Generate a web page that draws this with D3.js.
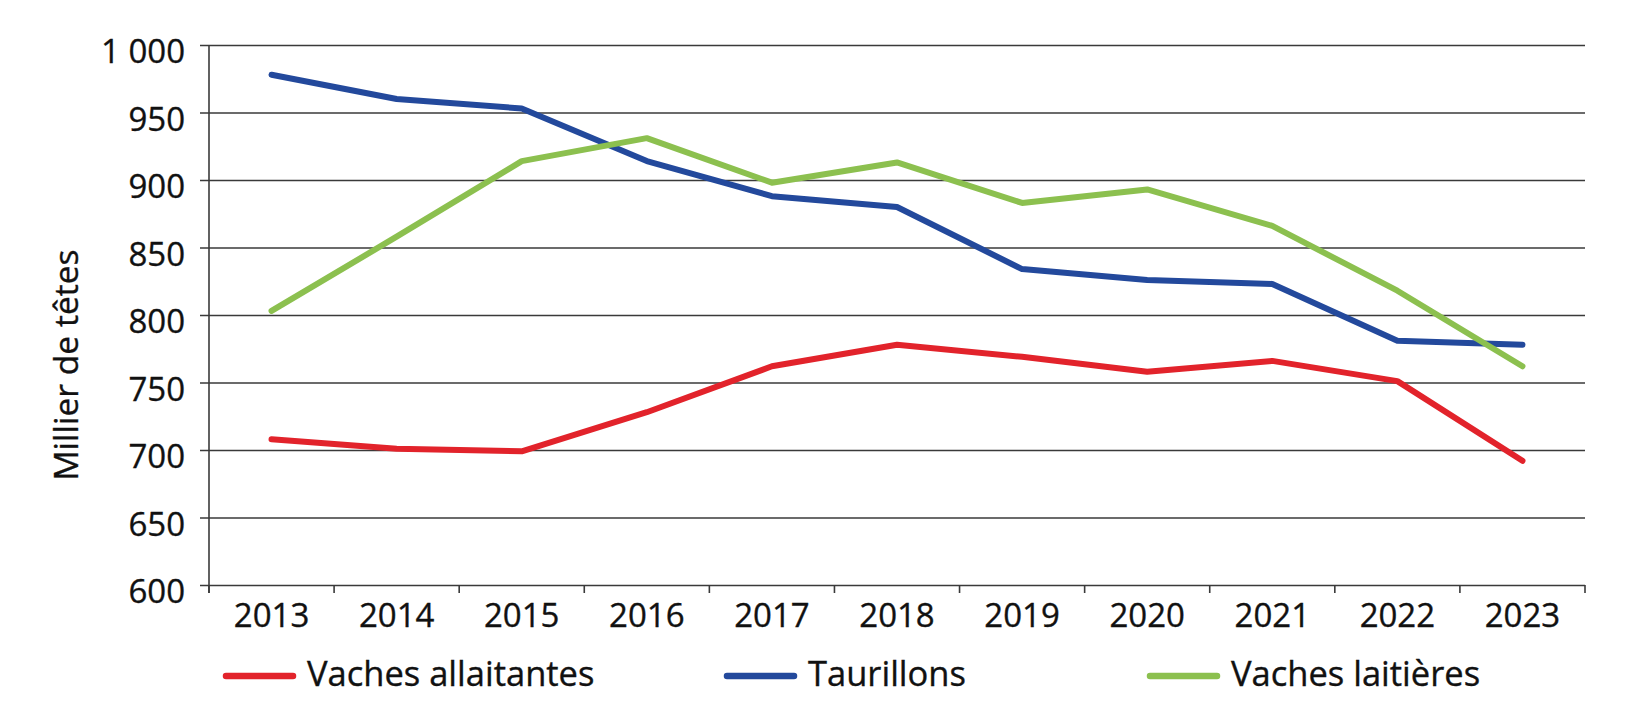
<!DOCTYPE html>
<html>
<head>
<meta charset="utf-8">
<script src="https://cdn.jsdelivr.net/npm/d3@7"></script>
<style>
  html, body { margin: 0; padding: 0; background: #fff; }
  svg { display: block; }
</style>
</head>
<body>
<svg id="chart" width="1652" height="704"></svg>
<script>
// data (milliers de têtes)
const years = ["2013", "2014", "2015", "2016", "2017", "2018", "2019", "2020", "2021", "2022", "2023"];
const vachesAllaitantes = [708, 701, 699, 728, 762, 778, 769, 758, 766, 751, 692];
const taurillons = [978, 960, 953, 914, 888, 880, 834, 826, 823, 781, 778];
const vachesLaitieres = [803, 858, 914, 931, 898, 913, 883, 893, 866, 818, 762];
const yTicks = [600, 650, 700, 750, 800, 850, 900, 950, 1000];
const seriesNames = ["Vaches allaitantes", "Taurillons", "Vaches laitières"];
const seriesColors = ["#e2232b", "#23499c", "#8cc04f"];

const series = [vachesAllaitantes, taurillons, vachesLaitieres].map((values, i) => ({
    name: seriesNames[i],
    color: seriesColors[i],
    values: values.map((v, j) => ({ year: years[j], value: v }))
}));

const font_family = "'Open Sans', sans-serif";
const tick_size = 33;
const legend_size = 34.5;
const title_size = 33.6;

// slightly heavier text, closer to the reference typeface
function styleText(sel, size) {
    sel.attr("fill", "#111")
        .attr("stroke", "#111")
        .attr("stroke-width", 0.35)
        .style("font-family", font_family)
        .style("font-size", size + "px");
}

const svg = d3.select("#chart");
svg.append("rect").attr("width", 1652).attr("height", 704).attr("fill", "#fff");

// Scales
const x = d3.scaleBand().domain(years).range([209, 1585]).paddingInner(0).paddingOuter(0);
const y = d3.scaleLinear().domain([600, 1000]).range([585, 45]);

const frFormat = d3.formatLocale({ decimal: ",", thousands: " ", grouping: [3], currency: ["", " €"] }).format(",d");

// Gridlines + y labels
const yAxis = svg.append("g")
    .attr("transform", "translate(200,0)")
    .call(d3.axisLeft(y)
        .tickValues(yTicks)
        .tickSizeInner(-(1585 - 200))
        .tickSizeOuter(0)
        .tickPadding(15)
        .tickFormat(frFormat));
yAxis.select(".domain").remove();
yAxis.selectAll(".tick line").attr("stroke", "#3a3a3a").attr("stroke-width", 1.6);
yAxis.selectAll(".tick text")
    .attr("dy", 17.5)
    .call(styleText, tick_size);

// y axis line
svg.append("line")
    .attr("x1", x.range()[0]).attr("x2", x.range()[0])
    .attr("y1", y(1000)).attr("y2", y(600) + 8)
    .attr("stroke", "#3a3a3a").attr("stroke-width", 1.6);

// x ticks at category boundaries
const bounds = years.map(d => x(d)).concat([x.range()[1]]);
svg.append("g").selectAll("line")
    .data(bounds)
    .join("line")
    .attr("x1", d => d).attr("x2", d => d)
    .attr("y1", y(600)).attr("y2", y(600) + 8)
    .attr("stroke", "#3a3a3a").attr("stroke-width", 1.6);

// x labels
const xAxis = svg.append("g")
    .attr("transform", `translate(0,${y(600)})`)
    .call(d3.axisBottom(x).tickSize(0));
xAxis.select(".domain").remove();
xAxis.selectAll(".tick text")
    .attr("y", 42)
    .attr("dy", 0)
    .call(styleText, tick_size);

// y title
svg.append("text")
    .attr("transform", `translate(78,${(y(1000) + y(600)) / 2 + 50}) rotate(-90)`)
    .attr("text-anchor", "middle")
    .call(styleText, title_size)
    .text("Millier de têtes");

// Lines
const line = d3.line()
    .x(d => x(d.year) + x.bandwidth() / 2)
    .y(d => y(d.value));

svg.append("g").selectAll("path")
    .data(series)
    .join("path")
    .attr("d", d => line(d.values))
    .attr("fill", "none")
    .attr("stroke", d => d.color)
    .attr("stroke-width", 6)
    .attr("stroke-linecap", "round")
    .attr("stroke-linejoin", "round");

// Legend
const legendX = [226, 727, 1150];
const legend = svg.append("g").selectAll("g")
    .data(series)
    .join("g")
    .attr("transform", (d, i) => `translate(${legendX[i]},676)`);

legend.append("line")
    .attr("x1", 0).attr("x2", 67)
    .attr("y1", 0).attr("y2", 0)
    .attr("stroke", d => d.color)
    .attr("stroke-width", 6.5)
    .attr("stroke-linecap", "round");

legend.append("text")
    .attr("x", 81)
    .attr("y", 10)
    .call(styleText, legend_size)
    .text(d => d.name);
</script>
</body>
</html>
